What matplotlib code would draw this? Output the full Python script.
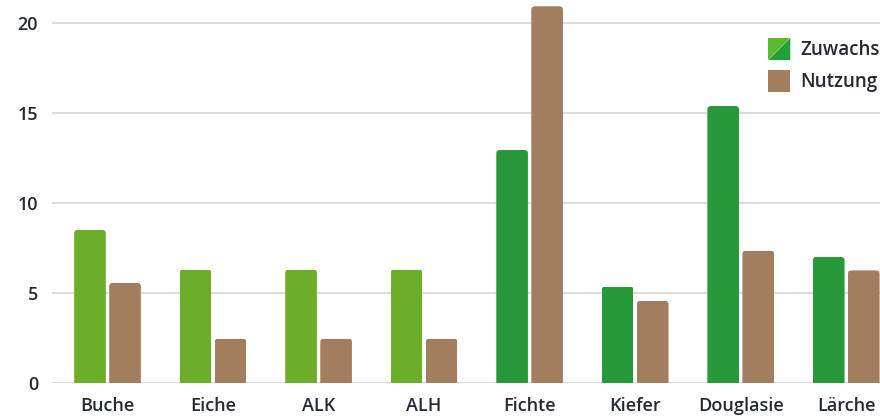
import matplotlib
matplotlib.use("Agg")
import matplotlib.pyplot as plt
import numpy as np
from matplotlib.patches import FancyBboxPatch, Polygon, Rectangle
from matplotlib.legend_handler import HandlerBase

categories = ["Buche", "Eiche", "ALK", "ALH", "Fichte", "Kiefer", "Douglasie", "Lärche"]
zuwachs = [8.5, 6.3, 6.3, 6.3, 12.95, 5.35, 15.4, 7.0]
nutzung = [5.55, 2.45, 2.45, 2.45, 20.95, 4.55, 7.35, 6.25]
laubholz = [True, True, True, True, False, False, False, False]
series_labels = ["Zuwachs", "Nutzung"]
yticks = [0, 5, 10, 15, 20]

LIGHT_GREEN = "#6cad29"
DARK_GREEN = "#28993a"
BROWN = "#a27e5e"
TEXT = "#262a33"
GRID = "#dcdcdc"

plt.rcParams['font.family'] = ['Open Sans', 'DejaVu Sans']

W, H, DPI = 880, 418, 100
fig = plt.figure(figsize=(W / DPI, H / DPI), dpi=DPI)
ax_left, ax_bottom = 52 / W, 35.3 / H
ax_w, ax_h = 1 - ax_left, (382.7 - 2) / H
ax = fig.add_axes([ax_left, ax_bottom, ax_w, ax_h])

x = np.arange(len(categories))
bw = 0.30
off = 0.166
xlim = (-0.526, 7.32)
ylim = (0, 21.19)
ax.set_xlim(*xlim)
ax.set_ylim(*ylim)

px_x = ax_w * W / (xlim[1] - xlim[0])
px_y = ax_h * H / (ylim[1] - ylim[0])
r_px = 3.5
rx = r_px / px_x
aspect = px_x / px_y

zcolors = [LIGHT_GREEN if l else DARK_GREEN for l in laubholz]
b1 = ax.bar(x - off, zuwachs, bw, color=zcolors, zorder=3)
b2 = ax.bar(x + off, nutzung, bw, color=BROWN, zorder=3)

for bars in (b1, b2):
    for b in bars:
        bx, by = b.get_x(), b.get_y()
        bwid, bh = b.get_width(), b.get_height()
        fp = FancyBboxPatch((bx, by - 1), bwid, bh + 1,
                            boxstyle=f"round,pad=0,rounding_size={rx}",
                            mutation_aspect=aspect,
                            facecolor=b.get_facecolor(), edgecolor='none',
                            zorder=3)
        ax.add_patch(fp)
        fp.set_clip_path(b)
        b.set_visible(False)

ax.set_yticks(yticks)
ax.set_yticklabels([str(v) for v in yticks])
ax.set_xticks(x)
ax.set_xticklabels(categories)
ax.yaxis.grid(True, color=GRID, linewidth=1.5, zorder=0)
ax.set_axisbelow(True)
for s in ax.spines.values():
    s.set_visible(False)
ax.tick_params(axis='both', length=0, labelsize=13, colors=TEXT)
ax.tick_params(axis='y', pad=10)
ax.tick_params(axis='x', pad=10.5)
for lab in ax.get_xticklabels() + ax.get_yticklabels():
    lab.set_fontweight('semibold')


class SplitHandler(HandlerBase):
    def create_artists(self, legend, orig_handle, xdescent, ydescent, width, height, fontsize, trans):
        p1 = Polygon([[-xdescent, -ydescent], [-xdescent, -ydescent + height], [-xdescent + width, -ydescent + height]],
                     closed=True, facecolor="#5cb82e", edgecolor='none', transform=trans)
        p2 = Polygon([[-xdescent, -ydescent], [-xdescent + width, -ydescent + height], [-xdescent + width, -ydescent]],
                     closed=True, facecolor="#24a03a", edgecolor='none', transform=trans)
        return [p1, p2]


h_z = Rectangle((0, 0), 1, 1, facecolor=DARK_GREEN)
h_n = Rectangle((0, 0), 1, 1, facecolor=BROWN)
leg = fig.legend([h_z, h_n], series_labels, loc='upper right',
                 bbox_to_anchor=(1.0, 1 - 38 / H), frameon=False,
                 handler_map={h_z: SplitHandler()},
                 prop={'size': 13.5, 'weight': 'semibold'},
                 handlelength=1.17, handleheight=1.43, handletextpad=0.55,
                 labelspacing=0.5, borderpad=0, borderaxespad=0)
for t in leg.get_texts():
    t.set_color(TEXT)

fig.savefig("out.png", dpi=DPI)
